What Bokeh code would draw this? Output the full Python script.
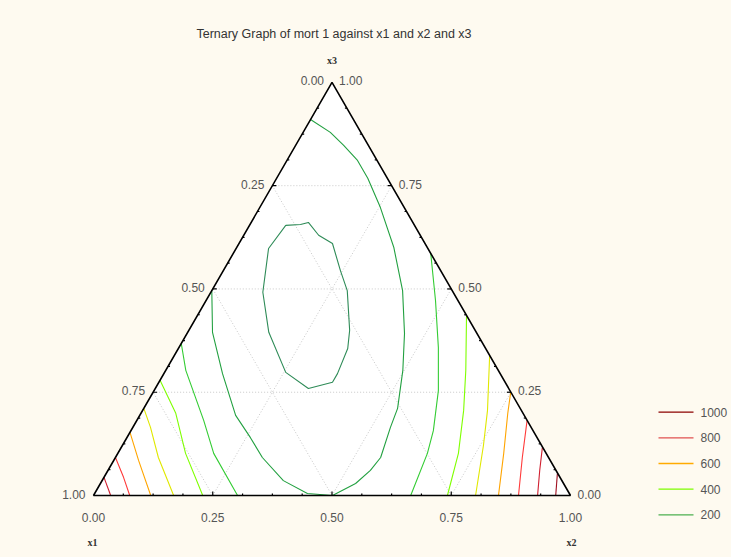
import numpy as np
from bokeh.plotting import figure
from bokeh.models import Range1d
from bokeh.core.properties import value
from bokeh.embed import file_html
from bokeh.resources import INLINE

# ---------------- data ----------------
TITLE = "Ternary Graph of mort 1 against x1 and x2 and x3"
VERTEX_NAMES = ["x1", "x2", "x3"]
TICKS = [0.0, 0.25, 0.5, 0.75, 1.0]
TICK_LABELS = ["0.00", "0.25", "0.50", "0.75", "1.00"]

LEGEND_LEVELS = ["1000", "800", "600", "400", "200"]
LEGEND_COLORS = ["#8B0000", "#E05050", "#FFAA00", "#7CFC00", "#4CAF50"]

# contour pieces, given as ternary coordinates (x2, x3); x1 = 1 - x2 - x3
c100_x2 = [0.076, 0.106, 0.120, 0.157, 0.196, 0.245, 0.284, 0.337, 0.355, 0.364, 0.364, 0.321, 0.254, 0.170, 0.109, 0.068, 0.076]
c100_x3 = [0.654, 0.656, 0.661, 0.630, 0.610, 0.545, 0.496, 0.400, 0.356, 0.295, 0.274, 0.259, 0.298, 0.395, 0.492, 0.598, 0.654]

c200_x2 = [0.0, 0.057, 0.100, 0.148, 0.191, 0.253, 0.329, 0.400, 0.456, 0.497, 0.532, 0.540, 0.556, 0.550, 0.535, 0.501, 0.446, 0.380, 0.308, 0.259, 0.201, 0.123, 0.052, 0.0]
c200_x3 = [0.910, 0.879, 0.848, 0.811, 0.768, 0.697, 0.601, 0.496, 0.392, 0.303, 0.211, 0.165, 0.092, 0.061, 0.029, 0.0, 0.005, 0.036, 0.092, 0.140, 0.194, 0.295, 0.395, 0.496]

c300a_x2 = [0.0, 0.042, 0.140, 0.201, 0.302]
c300a_x3 = [0.368, 0.303, 0.182, 0.102, 0.0]
c300b_x2 = [0.414, 0.481, 0.544, 0.596, 0.634, 0.649, 0.665]
c300b_x3 = [0.586, 0.472, 0.358, 0.254, 0.157, 0.102, 0.0]

c400a_x2 = [0.0, 0.073, 0.142, 0.229]
c400a_x3 = [0.279, 0.199, 0.102, 0.0]
c400b_x2 = [0.564, 0.629, 0.673, 0.714, 0.742]
c400b_x3 = [0.436, 0.303, 0.206, 0.102, 0.0]

c500a_x2 = [0.0, 0.037, 0.090, 0.168]
c500a_x3 = [0.211, 0.165, 0.092, 0.0]
c500b_x2 = [0.661, 0.723, 0.757, 0.801]
c500b_x3 = [0.339, 0.206, 0.121, 0.0]

c600a_x2 = [0.0, 0.052, 0.120]
c600a_x3 = [0.153, 0.085, 0.0]
c600b_x2 = [0.750, 0.769, 0.809, 0.849]
c600b_x3 = [0.249, 0.199, 0.102, 0.0]

c700a_x2 = [0.0, 0.041, 0.076]
c700a_x3 = [0.092, 0.044, 0.0]
c700b_x2 = [0.818, 0.853, 0.891]
c700b_x3 = [0.182, 0.092, 0.0]

c800a_x2 = [0.0, 0.036]
c800a_x3 = [0.044, 0.0]
c800b_x2 = [0.883, 0.905, 0.931]
c800b_x3 = [0.116, 0.061, 0.0]

c900b_x2 = [0.946, 0.969]
c900b_x3 = [0.053, 0.0]

CONTOURS = [
    (c100_x2, c100_x3, "#2E8B57"),
    (c200_x2, c200_x3, "#22A040"),
    (c300a_x2, c300a_x3, "#33CC33"),
    (c300b_x2, c300b_x3, "#33CC33"),
    (c400a_x2, c400a_x3, "#7FFF00"),
    (c400b_x2, c400b_x3, "#7FFF00"),
    (c500a_x2, c500a_x3, "#E0E800"),
    (c500b_x2, c500b_x3, "#E0E800"),
    (c600a_x2, c600a_x3, "#FFA500"),
    (c600b_x2, c600b_x3, "#FFA500"),
    (c700a_x2, c700a_x3, "#FF3A3A"),
    (c700b_x2, c700b_x3, "#FF3A3A"),
    (c800a_x2, c800a_x3, "#D02030"),
    (c800b_x2, c800b_x3, "#D02030"),
    (c900b_x2, c900b_x3, "#A01020"),
]

# ---------------- layout helpers ----------------
S3 = np.sqrt(3) / 2
PX = 1 / 477.0          # one screen pixel in data units
CREAM = "#FEFAF0"
FONT = value("Liberation Sans")


def to_xy(x2, x3):
    x2 = np.asarray(x2, dtype=float)
    x3 = np.asarray(x3, dtype=float)
    return x2 + x3 / 2, x3 * S3


W, H = 731, 557
p = figure(width=W, height=H,
           x_range=Range1d(-93 * PX, (W - 93) * PX),
           y_range=Range1d((495 - H) * PX, 495 * PX),
           output_backend="svg", toolbar_location=None,
           x_axis_location=None, y_axis_location=None,
           min_border=0, outline_line_color=None,
           background_fill_color=CREAM, border_fill_color=CREAM)
p.grid.visible = False

# triangle
tx, ty = to_xy([0, 1, 0], [0, 0, 1])
p.patch(list(tx), list(ty), fill_color="white", line_color=None)

# grid lines
gx, gy = [], []
for t in TICKS[1:-1]:
    for a, b in [((0, t), (1 - t, t)), ((t, 0), (t, 1 - t)), ((1 - t, 0), (0, 1 - t))]:
        xs, ys = to_xy([a[0], b[0]], [a[1], b[1]])
        gx.append(list(xs)); gy.append(list(ys))
p.multi_line(gx, gy, line_color="#C8C8C8", line_width=1, line_dash="1 2")

# contours
for x2s, x3s, col in CONTOURS:
    xs, ys = to_xy(x2s, x3s)
    p.line(list(xs), list(ys), line_color=col, line_width=1.1)

# triangle outline
p.patch(list(tx), list(ty), fill_color=None, line_color="black", line_width=1.6)

# ticks
sx0, sy0, sx1, sy1 = [], [], [], []
for k in range(1, 16):
    f = k / 16
    ln = (4 if k % 4 == 0 else 2) * PX
    bx, by = to_xy([f], [0])
    sx0.append(bx[0]); sy0.append(by[0]); sx1.append(bx[0]); sy1.append(by[0] + ln)
    lx, ly = to_xy([0], [f])
    sx0.append(lx[0]); sy0.append(ly[0]); sx1.append(lx[0] + ln); sy1.append(ly[0])
    rx, ry = to_xy([1 - f], [f])
    sx0.append(rx[0]); sy0.append(ry[0]); sx1.append(rx[0] - ln); sy1.append(ry[0])
p.segment(sx0, sy0, sx1, sy1, line_color="black", line_width=1.2)

# tick labels
lab_style = dict(text_font=FONT, text_font_size="12px", text_color="#555555")
# left edge: x1 values (x2 = 0)
lx, ly = to_xy([0] * 5, [1 - t for t in TICKS])
p.text(list(lx - 8 * PX), list(ly + 1.5 * PX), text=TICK_LABELS,
       text_align="right", text_baseline="middle", **lab_style)
# right edge: x3 values (x1 = 0)
rx, ry = to_xy([1 - t for t in TICKS], TICKS)
p.text(list(rx + 7 * PX), list(ry + 1.5 * PX), text=TICK_LABELS,
       text_align="left", text_baseline="middle", **lab_style)
# bottom edge: x2 values (x3 = 0)
bx, by = to_xy(TICKS, [0] * 5)
p.text(list(bx), list(by - 22 * PX), text=TICK_LABELS,
       text_align="center", text_baseline="middle", **lab_style)

# vertex names
vx, vy = to_xy([0, 1, 0], [0, 0, 1])
p.text([vx[0] - 1 * PX, vx[1] + 1 * PX, vx[2]],
       [vy[0] - 47 * PX, vy[1] - 47 * PX, vy[2] + 22 * PX],
       text=VERTEX_NAMES, text_font=value("Liberation Serif"),
       text_font_style="bold", text_font_size="10px", text_color="#333333",
       text_align="center", text_baseline="middle")

# title
p.text([(333.5 - 93) * PX], [(495 - 33) * PX], text=[TITLE], text_font=FONT,
       text_font_size="12.5px", text_color="#333333",
       text_align="center", text_baseline="middle")

# legend
n = len(LEGEND_LEVELS)
ly_leg = [(495 - 411.7 - i * 25.65) * PX for i in range(n)]
x_a = (658 - 93) * PX
x_b = (693 - 93) * PX
p.segment([x_a] * n, ly_leg, [x_b] * n, ly_leg, line_color=LEGEND_COLORS, line_width=1.3)
p.text([(700 - 93) * PX] * n, ly_leg, text=LEGEND_LEVELS, text_align="left",
       text_baseline="middle", **lab_style)

html = file_html(p, INLINE)
html = html.replace("<head>", "<head><style>body{background:%s;margin:0;}</style>" % CREAM, 1)
open("out.html", "w").write(html)
